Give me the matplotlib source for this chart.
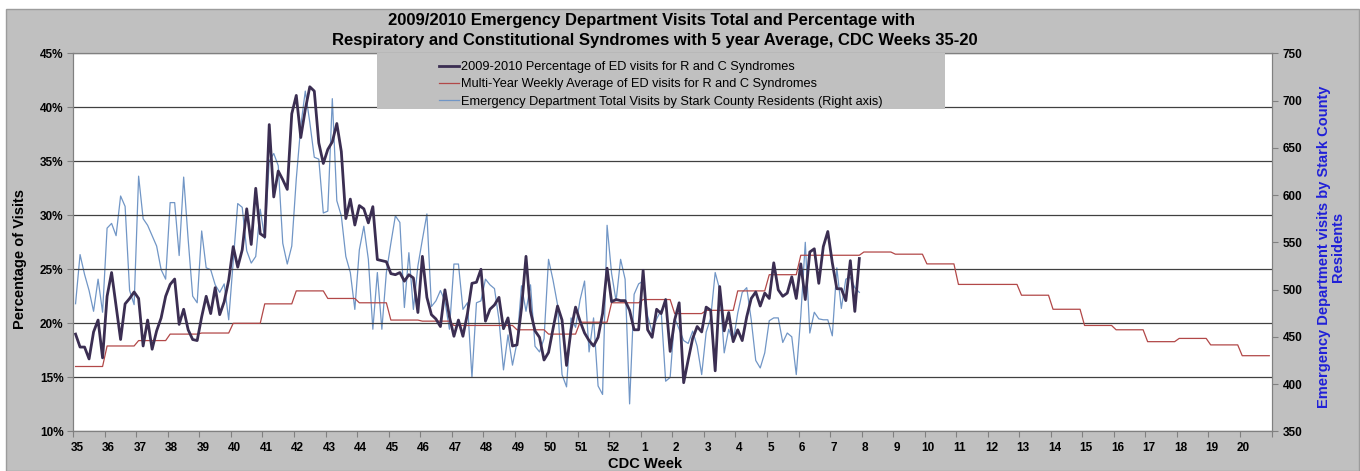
import numpy as np
import matplotlib.pyplot as plt
from matplotlib.patches import Rectangle
from matplotlib.lines import Line2D

plt.rcParams['font.family'] = ['Liberation Sans', 'DejaVu Sans']

# CDC weeks shown on the axis (35..52 of 2009, 1..20 of 2010)
week_labels = [str(w) for w in list(range(35, 53)) + list(range(1, 21))]

# daily % of ED visits for R and C syndromes, 2009-2010 (one row per week)
pct_2009 = [
    19.0, 17.8, 17.8, 16.7, 19.2, 20.3, 16.8,   # 35
    22.5, 24.7, 21.6, 18.5, 21.8, 22.3, 22.9,   # 36
    22.3, 17.9, 20.3, 17.6, 19.3, 20.5, 22.5,   # 37
    23.6, 24.1, 19.9, 21.3, 19.4, 18.5, 18.4,   # 38
    20.6, 22.5, 20.9, 23.3, 20.8, 22.0, 24.0,   # 39
    27.1, 25.2, 26.8, 30.6, 27.3, 32.5, 28.3,   # 40
    28.0, 38.4, 31.7, 34.1, 33.3, 32.4, 39.4,   # 41
    41.1, 37.2, 39.8, 41.9, 41.5, 36.7, 34.8,   # 42
    36.1, 36.8, 38.5, 35.9, 29.7, 31.5, 29.1,   # 43
    30.9, 30.6, 29.3, 30.8, 25.9, 25.8, 25.7,   # 44
    24.6, 24.5, 24.7, 23.9, 24.5, 24.2, 21.0,   # 45
    26.2, 22.4, 20.8, 20.4, 19.7, 23.1, 20.6,   # 46
    18.8, 20.3, 18.8, 20.9, 23.7, 23.8, 25.0,   # 47
    20.2, 21.3, 21.7, 22.4, 19.5, 20.5, 17.9,   # 48
    18.0, 21.4, 26.2, 21.1, 19.3, 18.7, 16.6,   # 49
    17.3, 19.5, 21.6, 20.3, 16.1, 19.4, 21.5,   # 50
    20.2, 19.1, 18.4, 17.9, 18.7, 20.9, 25.1,   # 51
    22.0, 22.2, 22.1, 22.1, 21.2, 19.4, 19.4,   # 52
    24.9, 19.4, 18.7, 21.3, 20.9, 22.2, 17.4,   # 1
    20.3, 21.9, 14.5, 16.6, 18.6, 19.7, 19.2,   # 2
    21.5, 21.2, 15.6, 23.4, 19.3, 21.0, 18.3,   # 3
    19.4, 18.4, 20.6, 22.3, 22.9, 21.6, 22.8,   # 4
    22.3, 25.6, 23.1, 22.5, 22.8, 24.3, 22.3,   # 5
    25.5, 22.2, 26.6, 26.9, 23.7, 27.1, 28.5,   # 6
    25.6, 23.2, 23.2, 22.1, 25.8, 21.1, 26.0,   # 7
]

# multi-year weekly average (%), one value per CDC week 35..20
avg_weekly = [
    16.0, 17.9, 18.4, 19.0, 19.1, 20.0, 21.8, 23.0, 22.3, 21.9,
    20.3, 20.2, 19.8, 19.8, 19.4, 19.0, 20.1, 21.9, 22.2, 20.9,
    21.2, 23.0, 24.5, 26.3, 26.3, 26.6, 26.4, 25.5, 23.6, 23.6,
    22.6, 21.3, 19.8, 19.4, 18.3, 18.6, 18.0, 17.0,
]

# daily total ED visits by Stark County residents (right axis)
ed_visits = [
    485, 537, 516, 499, 477, 511, 476,   # 35
    565, 570, 557, 599, 588, 499, 484,   # 36
    620, 575, 568, 557, 546, 521, 511,   # 37
    592, 592, 536, 619, 553, 493, 486,   # 38
    562, 523, 521, 505, 497, 506, 468,   # 39
    530, 591, 587, 541, 528, 535, 585,   # 40
    554, 636, 644, 631, 549, 527, 546,   # 41
    617, 673, 710, 677, 640, 638, 581,   # 42
    583, 702, 594, 578, 535, 518, 479,   # 43
    542, 567, 532, 458, 518, 458, 518,   # 44
    549, 578, 571, 481, 539, 479, 525,   # 45
    553, 580, 482, 488, 499, 488, 458,   # 46
    527, 527, 479, 486, 407, 486, 488,   # 47
    511, 505, 501, 468, 415, 452, 420,   # 48
    444, 504, 477, 505, 440, 434, 448,   # 49
    532, 510, 484, 410, 397, 470, 460,   # 50
    489, 509, 434, 470, 398, 389, 568,   # 51
    517, 488, 532, 511, 379, 495, 506,   # 52
    509, 472, 455, 469, 478, 403, 407,   # 1
    470, 458, 446, 443, 456, 440, 410,   # 2
    455, 470, 518, 500, 433, 458, 445,   # 3
    475, 497, 502, 468, 425, 417, 433,   # 4
    467, 470, 470, 444, 454, 450, 410,   # 5
    472, 550, 454, 476, 469, 468, 468,   # 6
    451, 523, 480, 511, 513, 502, 497,   # 7
]

legend_labels = [
    "2009-2010 Percentage of ED visits for R and C Syndromes",
    "Multi-Year Weekly Average of ED visits for R and C Syndromes",
    "Emergency Department Total Visits by Stark County Residents (Right axis)",
]

c_dark = '#3b2e52'
c_red = '#b24848'
c_blue = '#7196c6'

W, H = 1360, 471
fig = plt.figure(figsize=(W / 100, H / 100), dpi=100)
fig.patches.append(Rectangle((6 / W, 0), (1359 - 6) / W, (H - 9) / H,
                             transform=fig.transFigure, facecolor='#c0c0c0',
                             edgecolor='#9c9c9c', lw=1, zorder=-1))

x0, x1, ytop, ybot = 73.3, 1271.5, 53.3, 431.3
ax = fig.add_axes([x0 / W, 1 - ybot / H, (x1 - x0) / W, (ybot - ytop) / H])
ax2 = ax.twinx()
ax.set_zorder(ax2.get_zorder() + 1)
ax.patch.set_visible(False)
ax2.patch.set_visible(True)
ax2.patch.set_facecolor('white')

n_days = 7 * len(avg_weekly)
days = np.arange(len(pct_2009)) + 0.5
all_days = np.arange(n_days) + 0.5

ax2.plot(days, ed_visits, color=c_blue, lw=0.9)
ax.plot(all_days, np.repeat(avg_weekly, 7), color=c_red, lw=0.9)
ax.plot(days, pct_2009, color=c_dark, lw=2.0)

ax.set_xlim(0, n_days)
ax.set_ylim(10, 45)
ax2.set_ylim(350, 750)

ax.set_yticks(range(10, 46, 5))
ax.set_yticklabels([f"{v}%" for v in range(10, 46, 5)])
ax2.set_yticks(range(350, 751, 50))
ax.yaxis.grid(True, color='#404040', lw=0.9)
ax.set_axisbelow(True)

ax.set_xticks(np.arange(0, n_days + 1, 7))
ax.set_xticklabels([])
ax.set_xticks(np.arange(0, n_days, 7) + 0.8, minor=True)
ax.set_xticklabels(week_labels, minor=True)
ax.tick_params(axis='x', which='major', direction='out', length=4, color='#808080')
ax.tick_params(axis='x', which='minor', length=0, pad=8)
ax.tick_params(axis='y', direction='out', length=4, color='#808080', pad=3)
ax2.tick_params(axis='y', direction='out', length=4, color='#808080', pad=4)

for lab in (ax.get_xticklabels(which='minor') + ax.get_yticklabels()
            + ax2.get_yticklabels()):
    lab.set_fontweight('bold')
    lab.set_fontsize(8.5)

for a in (ax, ax2):
    for s in a.spines.values():
        s.set_color('#808080')

fig.text(652 / W, 1 - 20 / H,
         "2009/2010 Emergency Department Visits Total and Percentage with",
         ha='center', va='center', fontsize=12, fontweight='bold')
fig.text(655 / W, 1 - 40 / H,
         "Respiratory and Constitutional Syndromes with 5 year Average, CDC Weeks 35-20",
         ha='center', va='center', fontsize=12, fontweight='bold')
fig.text(20 / W, 1 - 259 / H, "Percentage of Visits", rotation=90,
         ha='center', va='center', fontsize=10.5, fontweight='bold')
fig.text(1331 / W, 1 - 247 / H,
         "Emergency Department visits by Stark County\nResidents", rotation=90,
         ha='center', va='center', multialignment='center', fontsize=10.5,
         fontweight='bold', color='#2020d8', linespacing=1.0)
fig.text(645 / W, 1 - 464 / H, "CDC Week", ha='center', va='center',
         fontsize=10.5, fontweight='bold')

# legend box
fig.patches.append(Rectangle((377 / W, 1 - 109 / H), (945 - 377) / W, (109 - 53.3) / H,
                             transform=fig.transFigure, facecolor='#c0c0c0',
                             edgecolor='none', zorder=2))
handles = [Line2D([], [], color=c_dark, lw=2.0),
           Line2D([], [], color=c_red, lw=0.9),
           Line2D([], [], color=c_blue, lw=0.9)]
leg = fig.legend(handles, legend_labels, loc='upper left',
                 bbox_to_anchor=(439 / W, 1 - 61 / H), frameon=False,
                 fontsize=9.2, handlelength=1.55, handletextpad=0.15,
                 labelspacing=0.42, borderpad=0, borderaxespad=0)
leg.set_zorder(3)

fig.savefig('out.png', dpi=100, facecolor='white')
